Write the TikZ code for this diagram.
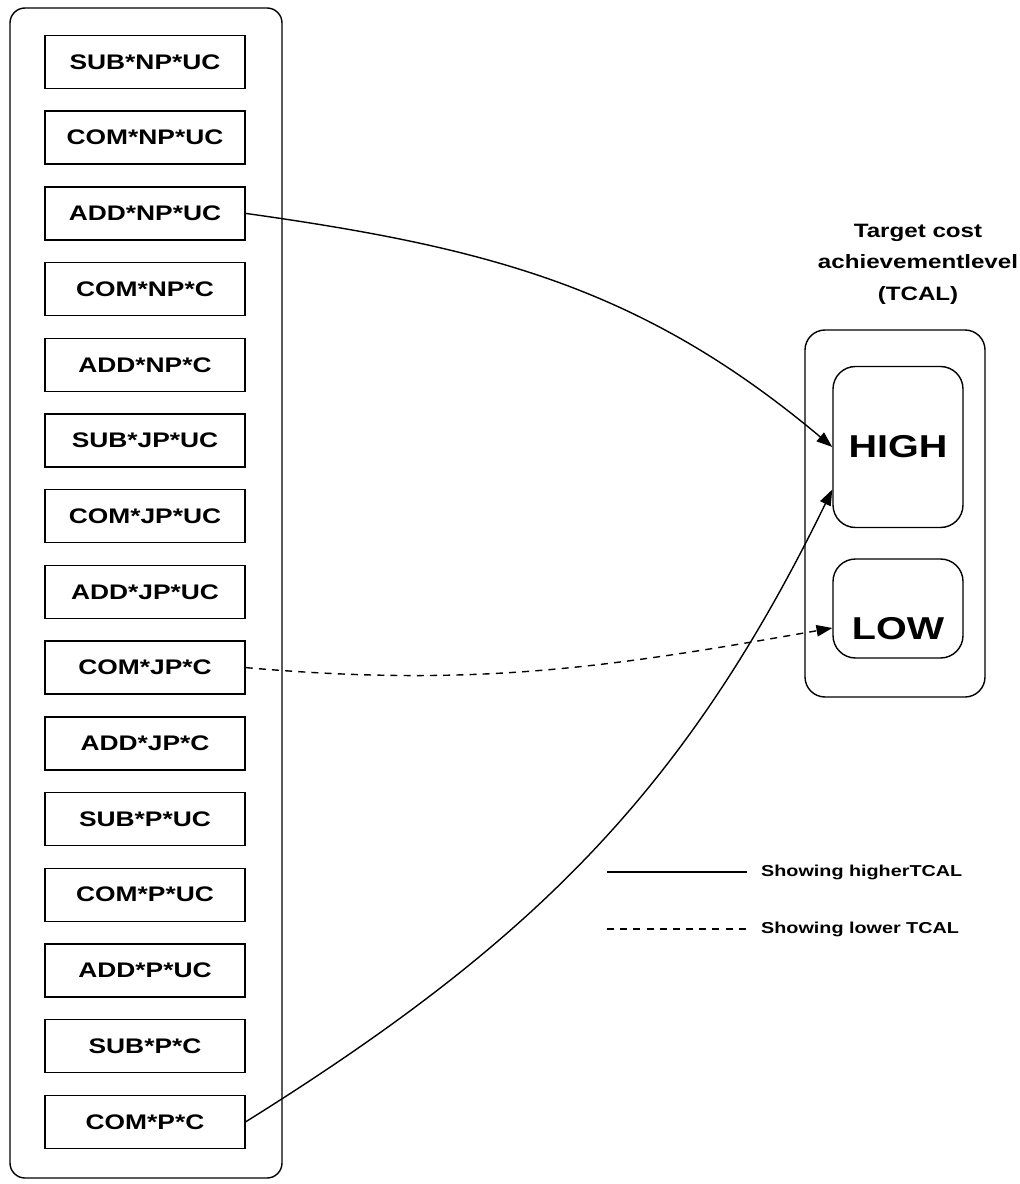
\documentclass[tikz,border=0pt]{standalone}
\usepackage{fontspec}
\setmainfont{Liberation Sans}[FakeStretch=1.25]
\usetikzlibrary{arrows.meta}

\begin{document}
\begin{tikzpicture}[
    line width=0.8pt,
    cell/.style={draw, minimum width=4cm, minimum height=1.06cm, inner sep=0pt,
      font=\fontsize{12}{14}\selectfont\bfseries},
    level/.style={draw, rounded corners=0.45cm, minimum width=2.6cm, inner sep=0pt},
    bigtxt/.style={font=\fontsize{18}{20}\selectfont\bfseries},
    tip/.style={-{Triangle[length=9pt,width=6.5pt]}},
    dsh/.style={dash pattern=on 4pt off 3.5pt},
    legtxt/.style={anchor=west, inner sep=2pt, font=\fontsize{9}{10}\selectfont\bfseries}
  ]
    \useasboundingbox (0, 0) rectangle (20.38, -23.68);

    % left column of terms
    \draw [rounded corners=0.3cm] (0.2, -0.16) rectangle (5.64, -23.56);
    \foreach \lbl [count=\i] in {SUB*NP*UC, COM*NP*UC, ADD*NP*UC, COM*NP*C, ADD*NP*C,
        SUB*JP*UC, COM*JP*UC, ADD*JP*UC, COM*JP*C, ADD*JP*C,
        SUB*P*UC, COM*P*UC, ADD*P*UC, SUB*P*C, COM*P*C} {
      \node [cell] (b\i) at (2.9, {-1.24 - 1.514*(\i-1)}) {\lbl};
    }

    % TCAL levels
    \node [align=center, font=\fontsize{11}{18}\selectfont\bfseries] (title) at (18.36, -5.28)
      {Target cost\\achievementlevel\\(TCAL)};
    \draw [rounded corners=0.4cm] (16.1, -6.6) rectangle (19.7, -13.94);
    \node [level, minimum height=3.22cm, bigtxt] (high) at (17.96, -8.94) {HIGH};
    \node [level, minimum height=1.98cm] (low) at (17.96, -12.17) {};
    \node [bigtxt] (lowtxt) at (17.96, -12.58) {LOW};

    \draw [tip] (b3.east) to [out=-8, in=140] (high.west);
    \draw [tip] (b15.east) to [out=32, in=244] ([yshift=-0.85cm]high.west);
    \draw [tip, dsh] (b9.east) to [out=-5, in=190] ([yshift=-0.39cm]low.west);

    % key
    \node [legtxt] (solidkey) at (15.14, -17.44) {Showing higherTCAL};
    \node [legtxt] (dashkey) at (15.14, -18.58) {Showing lower TCAL};
    \coordinate (s0) at (12.14, -17.44);
    \coordinate (d0) at (12.14, -18.58);
    \draw (s0) -- ([xshift=-0.2cm]solidkey.west);
    \draw [dsh] (d0) -- ([xshift=-0.14cm]dashkey.west);
\end{tikzpicture}
\end{document}
